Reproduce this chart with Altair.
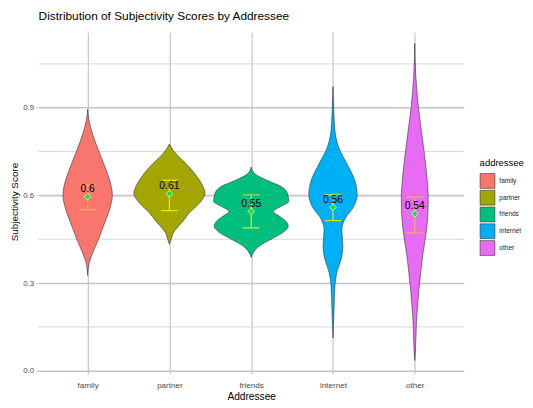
import json
import altair as alt
import pandas as pd

# ---------------- data ----------------
categories = ["family", "partner", "friends", "internet", "other"]
fill_colors = ["#F8766D", "#A3A500", "#00BF7D", "#00B0F6", "#E76BF3"]

# violin outlines: subjectivity levels and half-widths (category units)
family_y = [0.895, 0.86, 0.81, 0.748, 0.675, 0.63, 0.60, 0.562, 0.495, 0.45, 0.405, 0.371, 0.326]
family_w = [0.0, 0.014, 0.060, 0.141, 0.242, 0.290, 0.302, 0.278, 0.193, 0.133, 0.064, 0.021, 0.0]

partner_y = [0.776, 0.765, 0.742, 0.720, 0.697, 0.664, 0.630, 0.607, 0.585, 0.562, 0.540, 0.517, 0.495, 0.472, 0.450, 0.433]
partner_w = [0.0, 0.021, 0.081, 0.161, 0.242, 0.338, 0.411, 0.435, 0.399, 0.326, 0.242, 0.181, 0.112, 0.048, 0.021, 0.0]

friends_y = [0.697, 0.675, 0.652, 0.630, 0.607, 0.579, 0.562, 0.545, 0.528, 0.512, 0.495, 0.472, 0.450, 0.427, 0.405, 0.388]
friends_w = [0.0, 0.040, 0.190, 0.371, 0.443, 0.459, 0.362, 0.272, 0.350, 0.423, 0.453, 0.383, 0.242, 0.100, 0.028, 0.0]

internet_y = [0.973, 0.877, 0.821, 0.765, 0.709, 0.652, 0.602, 0.562, 0.517, 0.484, 0.427, 0.382, 0.337, 0.292, 0.202, 0.112]
internet_w = [0.0, 0.012, 0.024, 0.069, 0.169, 0.266, 0.296, 0.254, 0.141, 0.109, 0.121, 0.100, 0.048, 0.024, 0.012, 0.0]

other_y = [1.12, 1.012, 0.90, 0.787, 0.675, 0.585, 0.495, 0.394, 0.281, 0.169, 0.056, 0.035]
other_w = [0.0, 0.012, 0.045, 0.097, 0.145, 0.165, 0.149, 0.097, 0.052, 0.021, 0.006, 0.0]

# mean and error bar per addressee
means = [0.596, 0.606, 0.546, 0.559, 0.537]
lows = [0.551, 0.548, 0.489, 0.514, 0.472]
highs = [0.636, 0.652, 0.602, 0.602, 0.594]
bar_colors = ["#F9B530", "#E8E800", "#E8E820", "#E4E430", "#F2AD5C"]
topcap_colors = ["#F9B530", "#E8E800", "#A8DC48", "#E4E430", "#F2AD5C"]

y_major = [0.0, 0.3, 0.6, 0.9]
y_minor = [0.15, 0.45, 0.75, 1.05]

# ---------------- tables ----------------
profiles = [(family_y, family_w), (partner_y, partner_w), (friends_y, friends_w),
            (internet_y, internet_w), (other_y, other_w)]
rows = []
for i, (cat, (ys, ws)) in enumerate(zip(categories, profiles)):
    for yv, wv in zip(ys, ws):
        rows.append({"addressee": cat, "idx": i, "score": yv, "w": wv})
vdf = pd.DataFrame(rows)

edf = pd.DataFrame({
    "addressee": categories,
    "idx": list(range(len(categories))),
    "mean": means, "lo": lows, "hi": highs,
    "barcolor": bar_colors, "topcolor": topcap_colors,
})
mdf = pd.DataFrame({"m": y_minor})

FONT = "Liberation Sans"
label_expr = json.dumps(categories) + "[datum.value]"

xscale = alt.Scale(domain=[-0.6, len(categories) - 0.4], nice=False, zero=False)
yscale = alt.Scale(domain=[0, 1.158], nice=False, zero=False)

xaxis = alt.Axis(values=list(range(len(categories))), labelExpr=label_expr, grid=True,
                 gridColor="#cccccc", gridWidth=1.4, ticks=True, tickSize=3,
                 tickColor="#bbbbbb", tickWidth=1.2, domain=False, labelFontSize=8.2,
                 labelColor="#4d4d4d", labelPadding=8, title="Addressee",
                 titleFontSize=10.3, titleFontWeight="normal", titleColor="black",
                 titlePadding=3, labelFont=FONT, titleFont=FONT)
yaxis = alt.Axis(values=y_major, format=".1f", grid=True, gridColor="#c4c4c4",
                 gridWidth=1.6, ticks=True, tickSize=3, tickColor="#c4c4c4",
                 domain=False, labelFontSize=8, labelColor="#4d4d4d", labelPadding=2,
                 title="Subjectivity Score", titleFontSize=10, titleFontWeight="normal",
                 titleColor="black", titlePadding=3, labelFont=FONT, titleFont=FONT)

def X(field):
    return alt.X(field, scale=xscale, axis=xaxis, title="Addressee")

def Y(field):
    return alt.Y(field, scale=yscale, axis=yaxis, title="Subjectivity Score")

minor = alt.Chart(mdf).mark_rule(color="#d6d6d6", strokeWidth=1).encode(
    y=Y("m:Q")
)

violins = alt.Chart(vdf).transform_calculate(
    left="datum.idx - datum.w", right="datum.idx + datum.w"
).mark_area(orient="horizontal", interpolate="monotone", stroke="#333333",
            strokeWidth=0.6, opacity=1).encode(
    y=Y("score:Q"),
    x=alt.X("left:Q", scale=xscale, axis=xaxis, title="Addressee", stack=None),
    x2="right:Q",
    fill=alt.Fill("addressee:N",
                  scale=alt.Scale(domain=categories, range=fill_colors),
                  sort=categories,
                  legend=alt.Legend(title="addressee", orient="none", legendX=447,
                                    legendY=127, symbolType="square", symbolSize=225,
                                    symbolStrokeColor="#333333", symbolStrokeWidth=0.6,
                                    symbolOpacity=1, titleFontSize=9.6,
                                    titleFontWeight="normal", titleColor="black",
                                    titleFont=FONT, labelFont=FONT, labelFontSize=6.6,
                                    labelColor="#1a1a1a", labelOffset=4, rowPadding=-3,
                                    titlePadding=6)),
)

stem = alt.Chart(edf).mark_rule(strokeWidth=1.2).encode(
    x=X("idx:Q"), y=Y("lo:Q"), y2="hi:Q",
    color=alt.Color("barcolor:N", scale=None),
)
caps_base = alt.Chart(edf).transform_calculate(
    c0="datum.idx - 0.1", c1="datum.idx + 0.1"
)
cap_lo = caps_base.mark_rule(strokeWidth=1.2).encode(
    x=X("c0:Q"), x2="c1:Q", y=Y("lo:Q"),
    color=alt.Color("barcolor:N", scale=None),
)
cap_hi = caps_base.mark_rule(strokeWidth=1.2).encode(
    x=X("c0:Q"), x2="c1:Q", y=Y("hi:Q"),
    color=alt.Color("topcolor:N", scale=None),
)
points = alt.Chart(edf).mark_point(shape="diamond", filled=True, fill="#22dd22",
                                   stroke="#bbffbb", strokeWidth=1, size=45,
                                   opacity=1).encode(
    x=X("idx:Q"), y=Y("mean:Q")
)
labels = alt.Chart(edf).mark_text(fontSize=10.5, font=FONT, color="black", dy=-7.7,
                                  baseline="middle").encode(
    x=X("idx:Q"), y=Y("mean:Q"), text=alt.Text("mean:Q", format=".2~f")
)

chart = alt.layer(minor, violins, stem, cap_lo, cap_hi, points, labels).properties(
    width=431, height=343,
    title=alt.TitleParams("Distribution of Subjectivity Scores by Addressee",
                          anchor="start", fontSize=12, fontWeight="normal",
                          font=FONT, color="black", offset=10, frame="group"),
    autosize=alt.AutoSizeParams(type="none"),
    padding={"left": 31, "top": 22, "right": 62, "bottom": 30},
    background="white",
).configure_view(stroke=None)

chart.save("out.html", embed_options={"renderer": "svg", "actions": False})
